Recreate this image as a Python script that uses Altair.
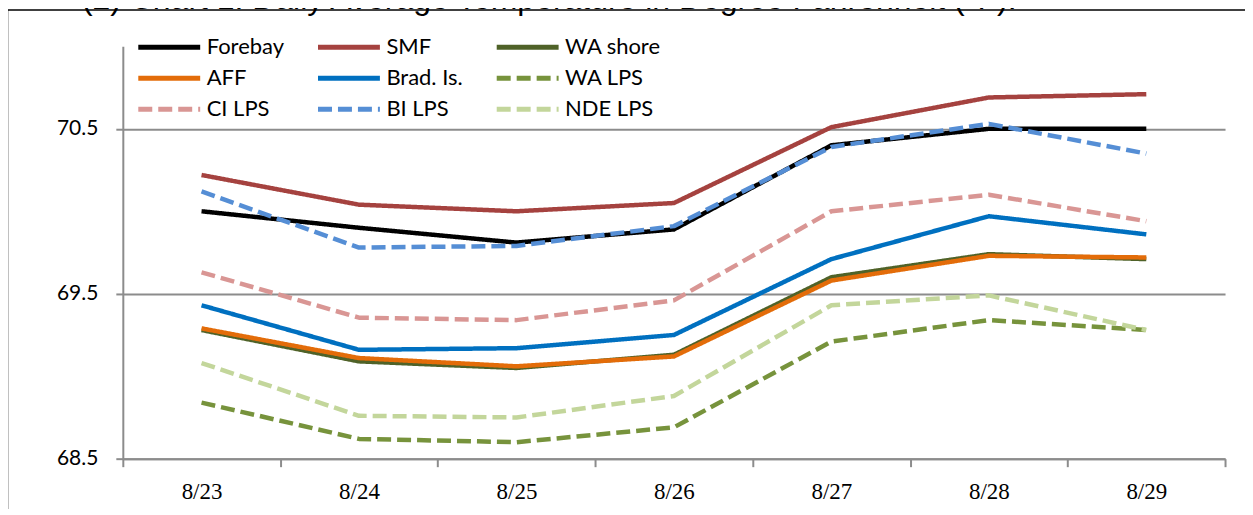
import altair as alt
import pandas as pd

dates = ["8/23", "8/24", "8/25", "8/26", "8/27", "8/28", "8/29"]
series = ["Forebay", "SMF", "WA shore", "AFF", "Brad. Is.", "WA LPS", "CI LPS", "BI LPS", "NDE LPS"]

forebay = [70.00, 69.90, 69.81, 69.89, 70.40, 70.50, 70.50]
smf = [70.22, 70.04, 70.00, 70.05, 70.51, 70.69, 70.71]
wa_shore = [69.28, 69.09, 69.05, 69.13, 69.60, 69.74, 69.71]
aff = [69.29, 69.11, 69.06, 69.12, 69.58, 69.73, 69.72]
brad = [69.43, 69.16, 69.17, 69.25, 69.71, 69.97, 69.86]
wa_lps = [68.84, 68.62, 68.60, 68.69, 69.21, 69.34, 69.28]
ci_lps = [69.63, 69.355, 69.34, 69.46, 70.00, 70.10, 69.94]
bi_lps = [70.12, 69.78, 69.79, 69.91, 70.39, 70.53, 70.35]
nde_lps = [69.08, 68.76, 68.75, 68.88, 69.43, 69.49, 69.28]

y_ticks = [68.5, 69.5, 70.5]
title_text = "(2) Chart 1: Daily Average Temperature in Degree Fahrenheit (\u00b0F)."

values = [forebay, smf, wa_shore, aff, brad, wa_lps, ci_lps, bi_lps, nde_lps]
colors = ["#000000", "#A5423F", "#4F6228", "#E36C09", "#0070C0",
          "#77933C", "#D99694", "#558ED5", "#C3D69B"]
SOLID = [1, 0]
DASH = [14, 6]
dashes = [SOLID, SOLID, SOLID, SOLID, SOLID, DASH, DASH, DASH, DASH]

rows = []
for name, vals in zip(series, values):
    for d, v in zip(dates, vals):
        rows.append({"series": name, "date": d, "temp": v})
df = pd.DataFrame(rows)

GRAY = "#8C8C8C"

leg = alt.Legend(
    title=None, orient="none", legendX=13, legendY=-11, columns=3, direction="horizontal",
    symbolType="stroke", symbolSize=3844, symbolStrokeWidth=5,
    clipHeight=24, rowPadding=7, columnPadding=31, gridAlign="each",
    labelFont="Lato", labelFontSize=22, labelColor="black", labelOffset=4,
    padding=0,
)

lines = alt.Chart(df).mark_line(strokeWidth=4.5, strokeJoin="round", strokeCap="butt").encode(
    x=alt.X("date:N", sort=dates,
            scale=alt.Scale(type="band", paddingInner=0, paddingOuter=0),
            axis=alt.Axis(title=None, tickBand="extent", grid=False, labelAngle=0,
                          domainColor=GRAY, domainWidth=2, tickColor=GRAY, tickWidth=2,
                          tickSize=8, labelPadding=14, labelFont="Liberation Sans Narrow",
                          labelFontSize=23, labelColor="black")),
    y=alt.Y("temp:Q", scale=alt.Scale(domain=[68.5, 71], nice=False, zero=False),
            axis=alt.Axis(title=None, values=y_ticks, format=".1f", grid=True,
                          gridColor=GRAY, gridWidth=2, domainColor=GRAY, domainWidth=2,
                          tickColor=GRAY, tickWidth=2, tickSize=7, labelPadding=18,
                          labelFont="Lato", labelFontSize=21, labelColor="black")),
    color=alt.Color("series:N", sort=series, scale=alt.Scale(domain=series, range=colors), legend=leg),
    strokeDash=alt.StrokeDash("series:N", sort=series, scale=alt.Scale(domain=series, range=dashes), legend=leg),
)

one = alt.Data(values=[{"a": 1}])
frame_v = alt.Chart(one).mark_rule(color="black", strokeWidth=1.5).encode(
    x=alt.value(-115.5), y=alt.value(-36.5), y2=alt.value(520))
frame_h = alt.Chart(one).mark_rule(color="black", strokeWidth=1.5).encode(
    x=alt.value(-115.5), x2=alt.value(1200), y=alt.value(-36.5))
title = alt.Chart(one).mark_text(
    text=title_text, font="Liberation Sans", fontSize=32, align="left", baseline="alphabetic",
    color="black").encode(x=alt.value(-41), y=alt.value(-37.5))

chart = alt.layer(frame_v, frame_h, title, lines).properties(
    width=1104, height=413,
    autosize=alt.AutoSizeParams(type="none"),
    padding={"left": 115, "top": 38, "right": 20, "bottom": 50},
).configure_view(stroke=None)

chart.save("out.html", embed_options={"renderer": "svg", "actions": False})
